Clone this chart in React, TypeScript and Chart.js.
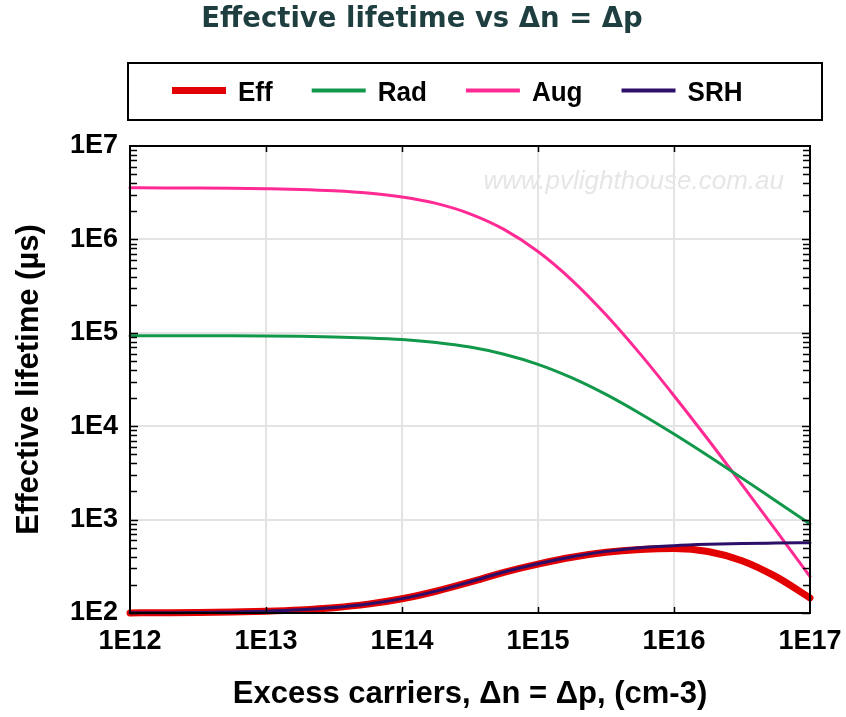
import { useEffect, useRef } from "react";
import { Chart, registerables } from "chart.js";

Chart.register(...registerables);

// Excess carrier density Δn = Δp (cm-3), quarter-decade steps
const carriers = [
  1e12, 1.78e12, 3.16e12, 5.62e12,
  1e13, 1.78e13, 3.16e13, 5.62e13,
  1e14, 1.78e14, 3.16e14, 5.62e14,
  1e15, 1.78e15, 3.16e15, 5.62e15,
  1e16, 1.78e16, 3.16e16, 5.62e16,
  1e17,
];

// Lifetimes in µs
const effLifetime = [
  100.3, 100.7, 101.3, 102.5, 104.5, 108, 114, 124.5, 142.2, 171, 214,
  273, 334, 395, 446, 478, 490, 456, 363, 245, 145,
];
const radLifetime = [
  9.31e4, 9.31e4, 9.29e4, 9.27e4, 9.23e4, 9.16e4, 9.03e4, 8.81e4, 8.46e4, 7.87e4,
  7.03e4, 5.9e4, 4.6e4, 3.29e4, 2.19e4, 1.37e4, 8.25e3, 4.83e3, 2.78e3, 1.58e3, 897,
];
const augLifetime = [
  3.57e6, 3.56e6, 3.55e6, 3.53e6, 3.49e6, 3.43e6, 3.32e6, 3.14e6, 2.85e6, 2.43e6,
  1.88e6, 1.28e6, 7.42e5, 3.65e5, 1.56e5, 5.98e4, 2.12e4, 7.2e3, 2.37e3, 766, 245,
];
const srhLifetime = [
  100.4, 100.8, 101.4, 102.6, 104.6, 108.1, 114.2, 124.7, 142.5, 171.5, 215,
  275, 337, 400, 457, 500, 526, 543, 555, 561, 566,
];

const seriesNames = ["Eff", "Rad", "Aug", "SRH"];
const seriesColors = ["#e30000", "#12984a", "#ff2a94", "#2d0f69"];
const seriesWidths = [7, 3, 3, 3];

const xTickValues = [1e12, 1e13, 1e14, 1e15, 1e16, 1e17];
const xTickLabels = ["1E12", "1E13", "1E14", "1E15", "1E16", "1E17"];
const yTickValues = [1e2, 1e3, 1e4, 1e5, 1e6, 1e7];
const yTickLabels = ["1E2", "1E3", "1E4", "1E5", "1E6", "1E7"];

const chartTitle = "Effective lifetime vs Δn = Δp";
const xTitle = "Excess carriers, Δn = Δp, (cm-3)";
const yTitle = "Effective lifetime (µs)";
const watermark = "www.pvlighthouse.com.au";

const SANS = '"Liberation Sans", Arial, sans-serif';

const decorations = {
  id: "decorations",
  beforeDraw(chart: any) {
    const { ctx, width, height } = chart;
    ctx.save();
    ctx.fillStyle = "#ffffff";
    ctx.fillRect(0, 0, width, height);
    ctx.restore();
  },
  beforeDatasetsDraw(chart: any) {
    const { ctx } = chart;
    ctx.save();
    ctx.font = `italic 26px ${SANS}`;
    ctx.fillStyle = "#e6e6e6";
    ctx.textAlign = "right";
    ctx.textBaseline = "alphabetic";
    ctx.fillText(watermark, 784, 189);
    ctx.restore();
  },
  afterDatasetsDraw(chart: any) {
    const { ctx, chartArea } = chart;
    const { left, right, top, bottom } = chartArea;
    const xs = chart.scales.x;
    const ys = chart.scales.y;
    ctx.save();
    ctx.strokeStyle = "#000";
    ctx.lineWidth = 1.5;
    ctx.beginPath();
    // x major ticks on top and bottom edges
    xTickValues.slice(1, -1).forEach((v) => {
      const px = Math.round(xs.getPixelForValue(v)) + 0.5;
      ctx.moveTo(px, bottom);
      ctx.lineTo(px, bottom - 6);
      ctx.moveTo(px, top);
      ctx.lineTo(px, top + 6);
    });
    // y major + minor ticks on left and right edges
    yTickValues.forEach((v, i) => {
      if (i === yTickValues.length - 1) return;
      for (let k = 1; k <= 9; k++) {
        const py = Math.round(ys.getPixelForValue(v * k)) + 0.5;
        const len = k === 1 ? 8 : 7;
        ctx.moveTo(left, py);
        ctx.lineTo(left + len, py);
        ctx.moveTo(right, py);
        ctx.lineTo(right - len, py);
      }
    });
    ctx.stroke();
    ctx.lineWidth = 2;
    ctx.strokeRect(left, top, right - left, bottom - top);
    ctx.restore();
  },
  afterDraw(chart: any) {
    const { ctx } = chart;
    ctx.save();
    // title
    ctx.font = `bold 27.5px "DejaVu Sans", Verdana, sans-serif`;
    ctx.fillStyle = "#1e3e3f";
    ctx.textAlign = "center";
    ctx.textBaseline = "middle";
    ctx.fillText(chartTitle, 422, 20);

    // legend frame
    ctx.strokeStyle = "#000";
    ctx.lineWidth = 2;
    ctx.strokeRect(128, 63, 694, 57);

    // legend entries (slightly condensed lettering)
    const squeeze = 0.93;
    ctx.font = `bold 28px ${SANS}`;
    ctx.textAlign = "left";
    ctx.textBaseline = "middle";
    let x = 172;
    const lineY = 90.5;
    const textY = 93;
    chart.data.datasets.forEach((ds: any, i: number) => {
      ctx.strokeStyle = ds.borderColor;
      ctx.lineWidth = i === 0 ? 7 : 4;
      ctx.lineCap = "butt";
      ctx.beginPath();
      ctx.moveTo(x, lineY);
      ctx.lineTo(x + 54, lineY);
      ctx.stroke();
      ctx.fillStyle = "#000";
      ctx.save();
      ctx.translate(x + 66, textY);
      ctx.scale(squeeze, 1);
      ctx.fillText(ds.label, 0, 0);
      ctx.restore();
      x += 66 + ctx.measureText(ds.label).width * squeeze + 39;
    });
    ctx.restore();
  },
};

export default function App() {
  const canvasRef = useRef<HTMLCanvasElement>(null);

  useEffect(() => {
    if (!canvasRef.current) return;
    const seriesValues = [effLifetime, radLifetime, augLifetime, srhLifetime];
    const datasets = seriesValues.map((vals, i) => ({
      label: seriesNames[i],
      data: carriers.map((c, j) => ({ x: c, y: vals[j] })),
      borderColor: seriesColors[i],
      backgroundColor: seriesColors[i],
      borderWidth: seriesWidths[i],
      pointRadius: 0,
      fill: false,
      cubicInterpolationMode: "monotone" as const,
      borderCapStyle: "round" as const,
      clip: false as const,
      // Eff sits underneath SRH
      order: i === 0 ? 5 : i === 3 ? 0 : i,
    }));

    const chart = new Chart(canvasRef.current, {
      type: "line",
      data: { datasets },
      plugins: [decorations],
      options: {
        responsive: false,
        animation: false,
        layout: { padding: { top: 146, right: 36, left: 0, bottom: 0 } },
        plugins: {
          legend: { display: false },
          title: { display: false },
          tooltip: { enabled: false },
        },
        scales: {
          x: {
            type: "logarithmic",
            min: 1e12,
            max: 1e17,
            afterBuildTicks: (s: any) => {
              s.ticks = xTickValues.map((v) => ({ value: v }));
            },
            afterFit: (s: any) => {
              s.height = 104;
              s.paddingLeft = 0;
              s.paddingRight = 0;
            },
            grid: { color: "#e3e3e3", lineWidth: 2, drawTicks: false },
            border: { display: false },
            ticks: {
              color: "#000",
              padding: 12,
              maxRotation: 0,
              autoSkip: false,
              font: { family: SANS, weight: "bold", size: 27 },
              callback: (_v: any, i: number) => xTickLabels[i],
            },
            title: {
              display: true,
              text: xTitle,
              color: "#000",
              font: { family: SANS, weight: "bold", size: 31 },
              padding: { top: 0, bottom: 4 },
            },
          },
          y: {
            type: "logarithmic",
            min: 1e2,
            max: 1e7,
            afterBuildTicks: (s: any) => {
              s.ticks = yTickValues.map((v) => ({ value: v }));
            },
            afterFit: (s: any) => {
              s.width = 130;
              s.paddingTop = 0;
              s.paddingBottom = 0;
            },
            grid: { color: "#e3e3e3", lineWidth: 2, drawTicks: false },
            border: { display: false },
            ticks: {
              color: "#000",
              padding: 12,
              autoSkip: false,
              font: { family: SANS, weight: "bold", size: 27 },
              callback: (_v: any, i: number) => yTickLabels[i],
            },
            title: {
              display: true,
              text: yTitle,
              color: "#000",
              font: { family: SANS, weight: "bold", size: 31 },
              padding: { top: 11, bottom: 0 },
            },
          },
        },
      } as any,
    });
    return () => chart.destroy();
  }, []);

  return (
    <div style={{ position: "fixed", left: 0, top: 0, width: 846, height: 717, background: "#fff" }}>
      <canvas ref={canvasRef} width={846} height={717} style={{ display: "block" }} />
    </div>
  );
}
